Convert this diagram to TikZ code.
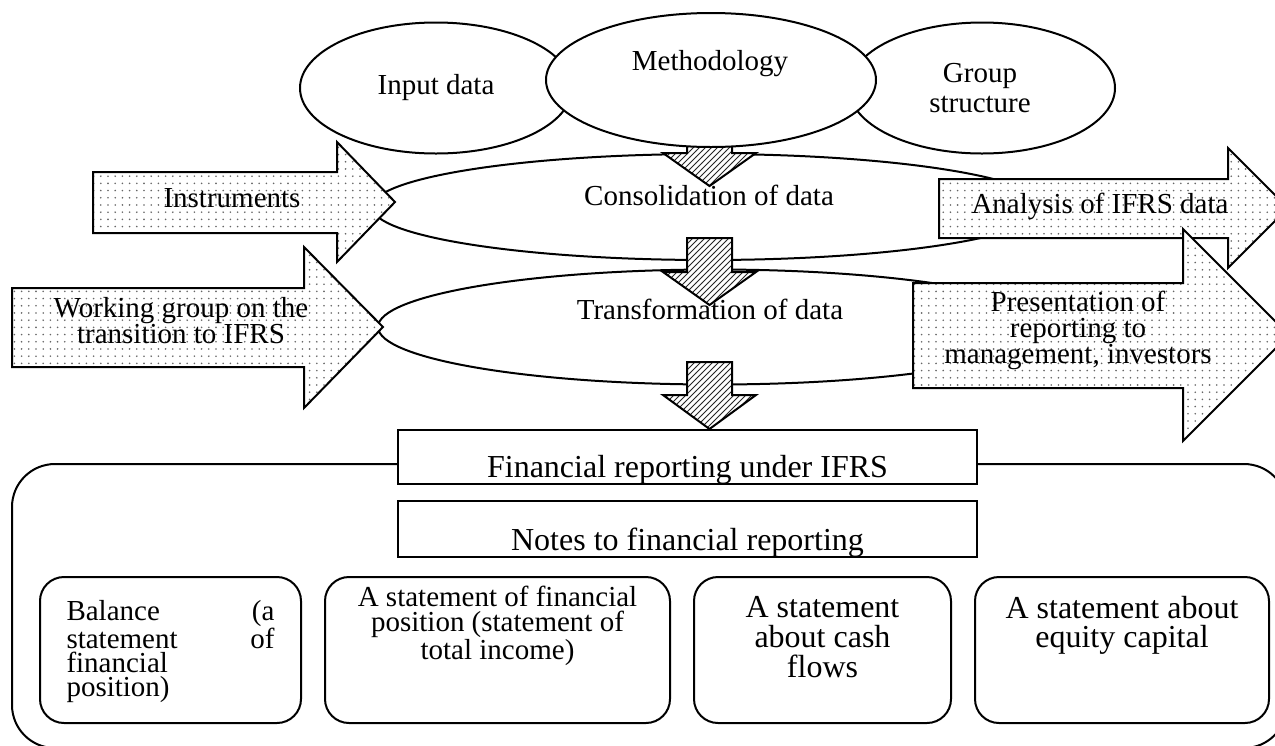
\documentclass[tikz,border=0pt]{standalone}
\usepackage{fontspec}
\setmainfont{Liberation Serif}
\usetikzlibrary{shapes.geometric, patterns}
\newcommand{\fsz}[2]{\fontsize{#1}{#2}\selectfont}
\newcommand{\stack}[2]{\parbox[t]{#1}{\centering #2}}
\lineskiplimit=-20pt
% sparse grey dots for the side arrows
\pgfdeclarepatternformonly{sparsedots}{\pgfqpoint{-1pt}{-1pt}}{\pgfqpoint{1pt}{1pt}}{\pgfqpoint{3.6pt}{3.6pt}}{%
    \pgfpathcircle{\pgfqpoint{0pt}{0pt}}{.45pt}\pgfusepath{fill}}

\begin{document}
\begin{tikzpicture}[
        x=0.5pt, y=-0.5pt,
        oval/.style={draw, ellipse, line width=1pt, fill=white, inner sep=0pt},
        txt/.style={inner sep=0pt, anchor=base, font=\fsz{14.5}{13}},
        dotarrow/.style={draw, line width=1pt, preaction={fill=white}, pattern=sparsedots, pattern color=black!60},
        hatcharrow/.style={draw, line width=1pt, preaction={fill=white}, pattern=north east lines, pattern color=black!85},
        titlebox/.style={draw, line width=1pt, fill=white, inner sep=0pt, anchor=base, minimum width=289.5pt, font=\fsz{16}{16}},
        stmt/.style={draw, line width=1pt, rounded corners=12pt, fill=white, inner sep=0pt, anchor=base}
    ]
        \clip (0,0) rectangle (1275,745);

        % Frame round the statements
        \draw[line width=1pt, rounded corners=21.5pt] (12,464) rectangle (1287,748);

        % Sources
        \node[oval, minimum width=136pt, minimum height=65.5pt] (input) at (436,88) {};
        \node[oval, minimum width=133pt, minimum height=65.5pt] (group) at (982,88) {};

        % Processing
        \node[oval, minimum width=336pt, minimum height=53pt] (cons) at (708,207) {};
        \node[oval, minimum width=337pt, minimum height=57.5pt] (trans) at (715,327) {};

        % Down arrows
        \draw[hatcharrow] (687,130) -- (732,130) -- (732,153) -- (756,153) -- (709.5,186) -- (663,153) -- (687,153) -- cycle;
        \draw[hatcharrow] (687,238) -- (732,238) -- (732,272) -- (756,272) -- (709.5,305) -- (663,272) -- (687,272) -- cycle;
        \draw[hatcharrow] (687,362) -- (732,362) -- (732,395) -- (756,395) -- (709.5,429) -- (663,395) -- (687,395) -- cycle;

        \node[oval, minimum width=165pt, minimum height=67pt] (meth) at (711,80) {};

        % Side arrows
        \draw[dotarrow] (93,172) -- (337,172) -- (337,142) -- (395,202) -- (337,262) -- (337,233) -- (93,233) -- cycle;
        \draw[dotarrow] (12,288) -- (304,288) -- (304,247) -- (383,327) -- (304,408) -- (304,367) -- (12,367) -- cycle;
        \draw[dotarrow] (939,179) -- (1228,179) -- (1228,148) -- (1288,208) -- (1228,268) -- (1228,238) -- (939,238) -- cycle;
        \draw[dotarrow] (913,283) -- (1183,283) -- (1183,229) -- (1289,335) -- (1183,441) -- (1183,388) -- (913,388) -- cycle;

        % Labels
        \node[txt] (inputtxt) at (436,94) {Input data};
        \node[txt] (methtxt) at (710,70) {Methodology};
        \node[txt, font=\fsz{14.5}{15}] (grouptxt) at (980,82) {\stack{80pt}{Group\\structure}};
        \node[txt] (constxt) at (709,205) {Consolidation of data};
        \node[txt] (transtxt) at (710,319) {Transformation of data};
        \node[txt] (instr) at (232,207) {Instruments};
        \node[txt] (wgroup) at (181,317) {\stack{140pt}{Working group on the\\transition to IFRS}};
        \node[txt] (analysis) at (1100,213) {Analysis of IFRS data};
        \node[txt] (present) at (1078,311) {\stack{150pt}{Presentation of\\reporting to\\management, investors}};

        % Reporting
        \node[titlebox, text height=23.5pt, text depth=3.5pt] (fin) at (687.5,477) {Financial reporting under IFRS};
        \node[titlebox, text height=24.5pt, text depth=3.5pt] (notes) at (687.5,550) {Notes to financial reporting};

        % Statements
        \node[stmt, minimum width=130.5pt, text height=21.5pt, text depth=51.5pt, font=\fsz{14.5}{12}] (bal) at (170.5,620)
            {\parbox[t]{104pt}{Balance\hfill(a\\statement\hfill of\\financial\\position)}};
        \node[stmt, minimum width=172.5pt, text height=14.5pt, text depth=58.5pt, font=\fsz{14.5}{12.5}] (income) at (497.5,606)
            {\stack{165pt}{A statement of financial\\position (statement of\\total income)}};
        \node[stmt, minimum width=128.5pt, text height=20pt, text depth=53pt, font=\fsz{16}{15}] (cash) at (822.5,617)
            {\stack{120pt}{A statement\\about cash\\flows}};
        \node[stmt, minimum width=147pt, text height=20.5pt, text depth=52.5pt, font=\fsz{16}{14.5}] (equity) at (1122,618)
            {\stack{140pt}{A statement about\\equity capital}};
    \end{tikzpicture}
\end{document}
